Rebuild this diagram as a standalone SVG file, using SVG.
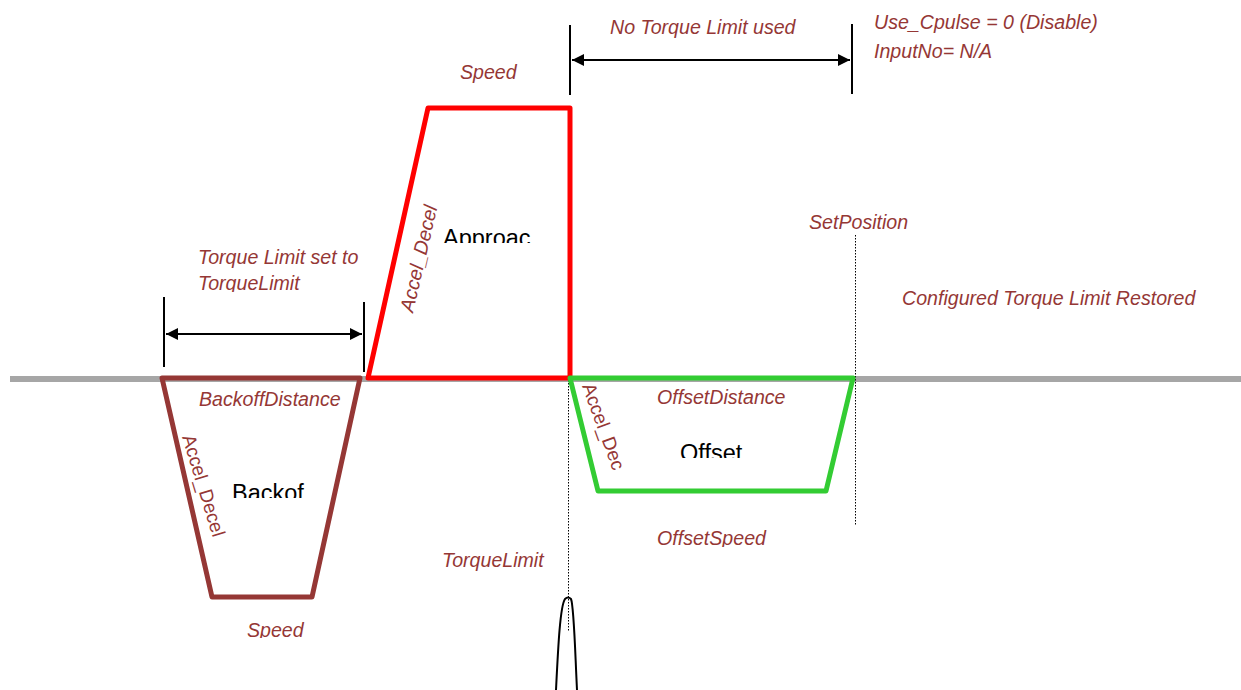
<svg xmlns="http://www.w3.org/2000/svg" width="1241" height="690" viewBox="0 0 1241 690">
<style>
.lbl{font-family:"Liberation Sans",Arial,sans-serif;font-size:19.6px;font-style:italic;fill:#953735}
.up{font-family:"Liberation Sans",Arial,sans-serif;font-size:19px;fill:#953735}
.name{font-family:"Liberation Sans",Arial,sans-serif;font-size:23.5px;fill:#000}
.dim{stroke:#000;stroke-width:2;fill:none}
.dot{stroke:#000;stroke-width:1;stroke-dasharray:1.5 1.5;fill:none}
</style>
<defs>
<marker id="ah" viewBox="0 0 10 10" refX="10" refY="5" markerWidth="6" markerHeight="6" orient="auto-start-reverse" markerUnits="strokeWidth">
<path d="M0,0 L10,5 L0,10 z" fill="#000"/>
</marker>
<clipPath id="c1"><rect x="0" y="0" width="1241" height="243"/></clipPath>
<clipPath id="c2"><rect x="0" y="0" width="1241" height="292"/></clipPath>
<clipPath id="c3"><rect x="0" y="0" width="1241" height="408"/></clipPath>
<clipPath id="c4"><rect x="0" y="0" width="1241" height="498"/></clipPath>
<clipPath id="c5"><rect x="0" y="0" width="1241" height="638"/></clipPath>
<clipPath id="c6"><rect x="0" y="0" width="1241" height="547"/></clipPath>
<clipPath id="c7"><rect x="0" y="0" width="1241" height="458"/></clipPath>
</defs>
<rect width="1241" height="690" fill="#fff"/>
<line x1="10" y1="379" x2="1241" y2="379" stroke="#a6a6a6" stroke-width="6"/>
<g id="connectors">
<line class="dot" x1="568.5" y1="380" x2="568.5" y2="632"/>
<line class="dot" x1="855.5" y1="235" x2="855.5" y2="525"/>
<line class="dim" x1="164" y1="297" x2="164" y2="367"/>
<line class="dim" x1="364" y1="302" x2="364" y2="372"/>
<line class="dim" x1="166" y1="334" x2="362" y2="334" marker-start="url(#ah)" marker-end="url(#ah)"/>
<line class="dim" x1="570" y1="25" x2="570" y2="95"/>
<line class="dim" x1="852" y1="24" x2="852" y2="94"/>
<line class="dim" x1="572" y1="60" x2="850" y2="60" marker-start="url(#ah)" marker-end="url(#ah)"/>
<path d="M556,690 C558,650 560,606 565,599 Q568,596 571,599 C574,606 575,650 577,690" fill="none" stroke="#000" stroke-width="2"/>
</g>
<g id="approach">
<polygon points="368,378 428,108 570,108 570,378" fill="none" stroke="#ff0000" stroke-width="5" stroke-linejoin="round"/>
<text class="name" x="443" y="246" clip-path="url(#c1)">Approac</text>
<text class="lbl" transform="translate(413,313) rotate(-77)">Accel_Decel</text>
<text class="lbl" x="460" y="79">Speed</text>
</g>
<g id="backoff">
<polygon points="162,378 212,597 312,597 360,378" fill="none" stroke="#953735" stroke-width="5" stroke-linejoin="round"/>
<text class="name" x="232" y="501" clip-path="url(#c4)">Backof</text>
<text class="up" transform="translate(182,437) rotate(73)">Accel_Decel</text>
<text class="lbl" x="247" y="637" clip-path="url(#c5)">Speed</text>
<text class="lbl" x="199" y="406" clip-path="url(#c3)">BackoffDistance</text>
</g>
<g id="offset">
<polygon points="570,378 598,491 826,491 853,378" fill="none" stroke="#33cc33" stroke-width="5" stroke-linejoin="round"/>
<text class="name" x="680" y="461" clip-path="url(#c7)">Offset</text>
<text class="up" transform="translate(582,386) rotate(70)">Accel_Dec</text>
<text class="lbl" x="657" y="404">OffsetDistance</text>
<text class="lbl" x="657" y="545" clip-path="url(#c6)">OffsetSpeed</text>
</g>
<g id="labels">
<text class="lbl" x="610" y="34">No Torque Limit used</text>
<text class="lbl" x="874" y="29">Use_Cpulse = 0 (Disable)</text>
<text class="lbl" x="874" y="58">InputNo= N/A</text>
<text class="lbl" x="809" y="229">SetPosition</text>
<text class="lbl" x="902" y="305">Configured Torque Limit Restored</text>
<text class="lbl" x="198" y="264">Torque Limit set to</text>
<text class="lbl" x="198" y="290" clip-path="url(#c2)">TorqueLimit</text>
<text class="lbl" x="442" y="567">TorqueLimit</text>
</g>
</svg>
